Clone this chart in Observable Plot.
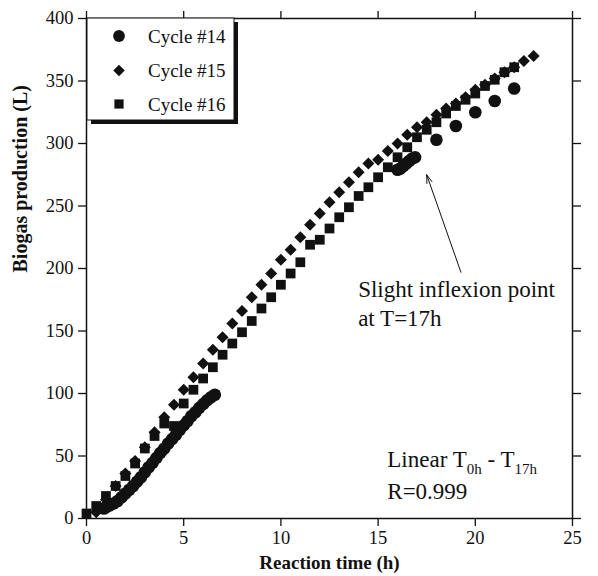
<!DOCTYPE html>
<html>
<head>
<meta charset="utf-8">
<script src="https://cdn.jsdelivr.net/npm/d3@7"></script>
<script src="https://cdn.jsdelivr.net/npm/@observablehq/plot@0.6"></script>
<style>
  html, body { margin: 0; padding: 0; background: #fff; }
  #chart { width: 598px; height: 576px; }
</style>
</head>
<body>
<div id="chart"></div>
<script>
// ---- Data ----
const seriesNames = ["Cycle #14", "Cycle #15", "Cycle #16"];

// Cycle #14 (circles)
const c14Hours = [0.9, 1.0, 1.2, 1.4, 1.6, 1.8, 2.0, 2.2, 2.4, 2.6, 2.8, 3.0, 3.2, 3.4, 3.6, 3.8,
  4.0, 4.2, 4.4, 4.6, 4.8, 5.0, 5.2, 5.4, 5.6, 5.8, 6.0, 6.2, 6.4, 6.6,
  16.0, 16.15, 16.3, 16.45, 16.6, 16.75, 16.9,
  18, 19, 20, 21, 22];
const c14Biogas = [8, 9, 10.5, 12, 14, 17, 20, 23, 26, 29.5, 33, 37, 41, 44.5, 48.5, 52.5,
  56, 60, 63.5, 67, 71, 74.5, 78, 82, 85, 88.5, 91.5, 94.5, 97, 99,
  279, 280, 282, 284, 286, 288, 289,
  303, 314, 325, 334, 344];

// Cycle #15 (diamonds)
const c15Hours = [0.5, 1.0, 1.5, 2.0, 2.5, 3.0, 3.5, 4.0, 4.5, 5.0, 5.5, 6.0, 6.5, 7.0, 7.5, 8.0,
  8.5, 9.0, 9.5, 10.0, 10.5, 11.0, 11.5, 12.0, 12.5, 13.0, 13.5, 14.0, 14.5, 15.0, 15.5, 16.0,
  16.5, 17.0, 17.5, 18.0, 18.5, 19.0, 19.5, 20.0, 20.5, 21.0, 21.5, 22.0, 22.5, 23.0];
const c15Biogas = [5, 15, 26, 36, 46, 57, 69, 81, 91, 103, 113, 124, 135, 145, 156, 166,
  177, 187, 196, 207, 215, 225, 235, 244, 253, 261, 269, 277, 284, 287, 294, 300,
  307, 313, 317, 323, 328, 332, 337, 343, 347, 352, 357, 361, 366, 370];

// Cycle #16 (squares)
const c16Hours = [0, 0.5, 1.0, 1.5, 2.0, 2.5, 3.0, 3.5, 4.0, 4.5, 5.0, 5.5, 6.0, 6.5, 7.0, 7.5,
  8.0, 8.5, 9.0, 9.5, 10.0, 10.5, 11.0, 11.5, 12.0, 12.5, 13.0, 13.5, 14.0, 14.5, 15.0, 15.5,
  16.0, 16.5, 17.0, 17.5, 18.0, 18.5, 19.0, 19.5, 20.0, 20.5, 21.0, 21.5, 22.0];
const c16Biogas = [4, 10, 18, 26, 34, 44, 56, 66, 76, 74, 92, 103, 112, 121, 131, 140,
  149, 158, 168, 177, 187, 196, 205, 219, 223, 232, 241, 249, 258, 265, 273, 281,
  289, 297, 305, 311, 317, 324, 330, 335, 340, 346, 351, 357, 361];

const xTicks = [0, 5, 10, 15, 20, 25];
const yTicks = [0, 50, 100, 150, 200, 250, 300, 350, 400];

const xTitle = "Reaction time (h)";
const yTitle = "Biogas production (L)";
const noteInflexion = ["Slight inflexion point", "at T=17h"];
const noteR = "R=0.999";

// ---- Build tables ----
const toRows = (hs, vs) => hs.map((h, i) => ({hour: h, biogas: vs[i]}));
const c14 = toRows(c14Hours, c14Biogas);
const c15 = toRows(c15Hours, c15Biogas);
const c16 = toRows(c16Hours, c16Biogas);

const SERIF = "'Liberation Serif', 'Times New Roman', Times, serif";
const INK = "#111";

const plot = Plot.plot({
  width: 598,
  height: 576,
  marginLeft: 86,
  marginRight: 26,
  marginTop: 18,
  marginBottom: 58,
  x: {domain: [0, 25]},
  y: {domain: [0, 400]},
  style: {fontFamily: SERIF, background: "white", color: INK, overflow: "visible"},
  marks: [
    Plot.frame({stroke: INK, strokeWidth: 1.5}),
    Plot.axisX({anchor: "bottom", ticks: xTicks, tickSize: 8, tickPadding: 4, fontSize: 18.5, label: null, strokeWidth: 1.3}),
    Plot.axisX({anchor: "top", ticks: xTicks, tickSize: 8, tickFormat: () => "", label: null, strokeWidth: 1.3}),
    Plot.axisY({anchor: "left", ticks: yTicks, tickSize: 8, tickPadding: 5, fontSize: 18.5, label: null, strokeWidth: 1.3}),
    Plot.axisY({anchor: "right", ticks: yTicks, tickSize: 8, tickFormat: () => "", label: null, strokeWidth: 1.3}),
    Plot.dot(c16, {x: "hour", y: "biogas", symbol: "square", r: 5.5, fill: INK}),
    Plot.dot(c15, {x: "hour", y: "biogas", symbol: "diamond2", r: 5.4, fill: INK}),
    Plot.dot(c14, {x: "hour", y: "biogas", symbol: "circle", r: 6.3, fill: INK}),
    Plot.arrow([{x1: 19.26, y1: 197, x2: 17.5, y2: 275}], {
      x1: "x1", y1: "y1", x2: "x2", y2: "y2",
      stroke: INK, strokeWidth: 1, headLength: 13, headAngle: 36
    }),
    Plot.text([xTitle], {frameAnchor: "bottom", dy: 50, fontSize: 19, fontWeight: "bold", fill: INK}),
    Plot.text([yTitle], {frameAnchor: "left", dx: -66, dy: 4, rotate: -90, fontSize: 20, fontWeight: "bold", fill: INK})
  ]
});

document.getElementById("chart").appendChild(plot);

// ---- Annotations and legend (positioned with the plot's scales) ----
const sx = plot.scale("x"), sy = plot.scale("y");
const svg = d3.select(plot);
const ann = svg.append("g").attr("font-family", SERIF).attr("fill", INK).attr("text-anchor", "start");

// inflexion note
ann.append("text").attr("x", sx.apply(14.0)).attr("y", sy.apply(176.5)).attr("font-size", 23).text(noteInflexion[0]);
ann.append("text").attr("x", sx.apply(14.0)).attr("y", sy.apply(153.5)).attr("font-size", 23).text(noteInflexion[1]);

// linear note with subscripts
const lin = ann.append("text").attr("x", sx.apply(15.5)).attr("y", sy.apply(40.5)).attr("font-size", 23);
lin.append("tspan").text("Linear T");
lin.append("tspan").attr("font-size", 15).attr("dy", 7).text("0h");
lin.append("tspan").attr("dy", -7).text(" - T");
lin.append("tspan").attr("font-size", 15).attr("dy", 7).text("17h");
ann.append("text").attr("x", sx.apply(15.5)).attr("y", sy.apply(15.5)).attr("font-size", 23).text(noteR);

// legend
const lg = svg.append("g").attr("font-family", SERIF).attr("text-anchor", "start");
const boxX = sx.apply(0) + 1, boxY = sy.apply(400), boxW = 147, boxH = 102;
lg.append("rect").attr("x", boxX + 4).attr("y", boxY + 4).attr("width", boxW).attr("height", boxH).attr("fill", INK);
lg.append("rect").attr("x", boxX).attr("y", boxY).attr("width", boxW).attr("height", boxH)
  .attr("fill", "white").attr("stroke", INK).attr("stroke-width", 1);
const symbols = [d3.symbolCircle, d3.symbolDiamond2, d3.symbolSquare];
const radii = [5.9, 5.2, 5.2];
const rowY = [36, 70.5, 104];
seriesNames.forEach((name, i) => {
  lg.append("path")
    .attr("d", d3.symbol(symbols[i], Math.PI * radii[i] * radii[i])())
    .attr("transform", `translate(${boxX + 32},${rowY[i]})`)
    .attr("fill", INK);
  lg.append("text").attr("x", boxX + 61).attr("y", rowY[i]).attr("dy", "0.35em")
    .attr("font-size", 19).attr("fill", INK).text(name);
});
</script>
</body>
</html>
